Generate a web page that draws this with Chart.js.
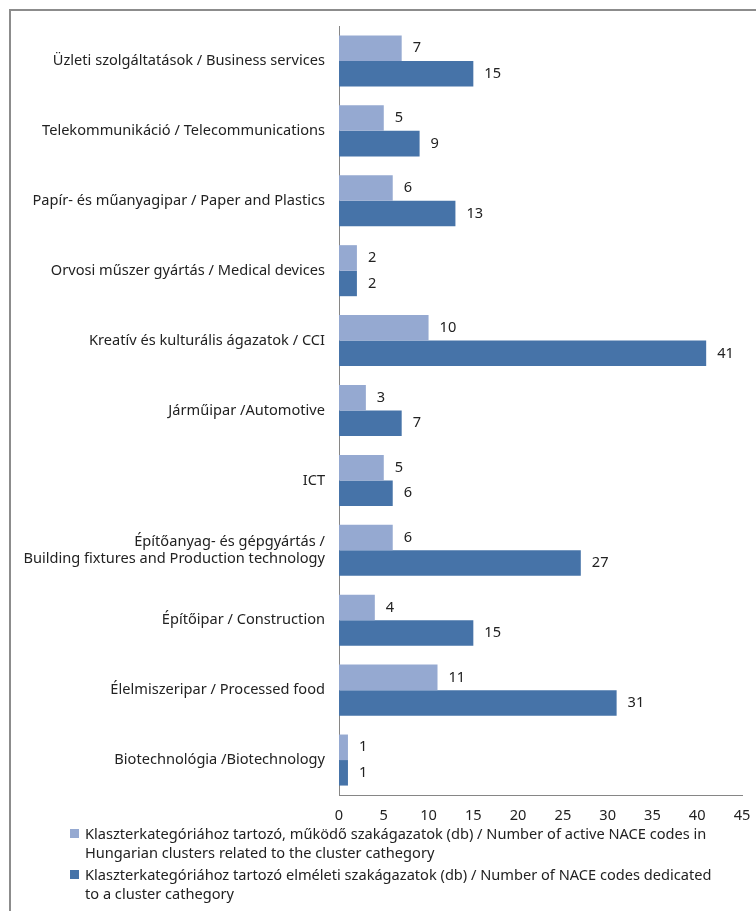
<!DOCTYPE html>
<html>
<head>
<meta charset="utf-8">
<script src="https://cdn.jsdelivr.net/npm/chart.js@4"></script>
<style>
  html, body { margin: 0; padding: 0; background: #fff; }
  #wrap { position: relative; width: 756px; height: 911px; overflow: hidden; }
  #frame { position: absolute; left: 9px; top: 9px; width: 800px; height: 960px;
           border-left: 2px solid #8c8c8c; border-top: 2px solid #8c8c8c; }
  canvas { position: absolute; left: 0; top: 0; }
  #legend { position: absolute; left: 70px; top: 824px; width: 645px;
            font-family: "Noto Sans", sans-serif; font-size: 14.6px; line-height: 19px; color: #222; }
  .item { position: relative; padding-left: 15px; margin-bottom: 3px; }
  .box { position: absolute; left: 0; top: 5px; width: 9px; height: 9px; }
</style>
</head>
<body>
<div id="wrap">
  <div id="frame"></div>
  <canvas id="chart" width="756" height="911"></canvas>
  <div id="legend"></div>
</div>
<script>
const categories = [
  "Üzleti szolgáltatások / Business services",
  "Telekommunikáció / Telecommunications",
  "Papír- és műanyagipar / Paper and Plastics",
  "Orvosi műszer gyártás / Medical devices",
  "Kreatív és kulturális ágazatok / CCI",
  "Járműipar /Automotive",
  "ICT",
  ["Építőanyag- és gépgyártás /", "Building fixtures and Production technology"],
  "Építőipar / Construction",
  "Élelmiszeripar / Processed food",
  "Biotechnológia /Biotechnology"
];
const activeCodes = [7, 5, 6, 2, 10, 3, 5, 6, 4, 11, 1];
const dedicatedCodes = [15, 9, 13, 2, 41, 7, 6, 27, 15, 31, 1];
const seriesNames = [
  "Klaszterkategóriához tartozó, működő szakágazatok (db) / Number of active NACE codes in Hungarian clusters related to the cluster cathegory",
  "Klaszterkategóriához tartozó elméleti szakágazatok (db) / Number of NACE codes dedicated to a cluster cathegory"
];
const colors = ["#95a9d1", "#4673a8"];

const FONT = "Noto Sans";
const SIZE = 14.6;

// value labels to the right of each bar
const valueLabels = {
  id: "valueLabels",
  afterDatasetsDraw(chart) {
    const ctx = chart.ctx;
    ctx.save();
    ctx.font = SIZE + "px '" + FONT + "'";
    ctx.fillStyle = "#222";
    ctx.textBaseline = "middle";
    chart.data.datasets.forEach((ds, i) => {
      chart.getDatasetMeta(i).data.forEach((bar, j) => {
        ctx.fillText(String(ds.data[j]), bar.x + 11, bar.y);
      });
    });
    ctx.restore();
  }
};

new Chart(document.getElementById("chart"), {
  type: "bar",
  data: {
    labels: categories,
    datasets: [
      { label: seriesNames[0], data: activeCodes, backgroundColor: colors[0] },
      { label: seriesNames[1], data: dedicatedCodes, backgroundColor: colors[1] }
    ]
  },
  options: {
    indexAxis: "y",
    responsive: false,
    animation: false,
    datasets: { bar: { categoryPercentage: 0.73, barPercentage: 1.0 } },
    layout: { padding: { top: 26, right: 0, left: 0, bottom: 0 } },
    plugins: { legend: { display: false }, tooltip: { enabled: false } },
    scales: {
      x: {
        min: 0, max: 45,
        ticks: { stepSize: 5, padding: 12, color: "#222", font: { family: FONT, size: SIZE } },
        grid: { display: false, drawTicks: false },
        border: { color: "#868686", width: 1 },
        afterFit(scale) { scale.height = 116; scale.paddingRight = 14; }
      },
      y: {
        ticks: { padding: 14, color: "#222", font: { family: FONT, size: SIZE }, autoSkip: false },
        grid: { display: false, drawTicks: false },
        border: { color: "#868686", width: 1 },
        afterFit(scale) { scale.width = 339; }
      }
    }
  },
  plugins: [valueLabels]
});

const legend = document.getElementById("legend");
seriesNames.forEach((name, i) => {
  const d = document.createElement("div");
  d.className = "item";
  d.innerHTML = '<span class="box" style="background:' + colors[i] + '"></span>' + name;
  legend.appendChild(d);
});
</script>
</body>
</html>
